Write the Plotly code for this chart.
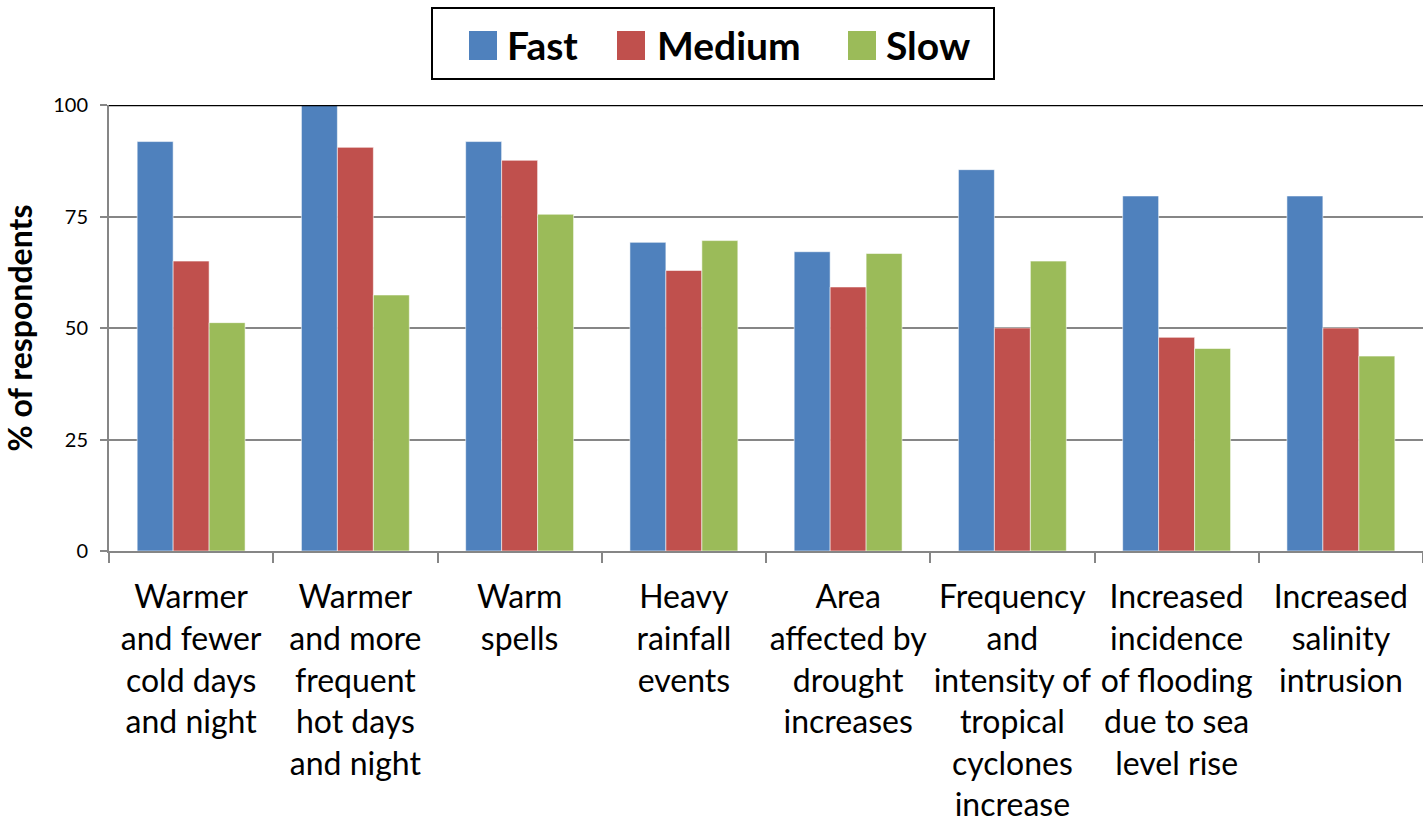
import plotly.graph_objects as go

# Categories of observed climate change and share of respondents per speed
categories = [
    "Warmer<br>and fewer<br>cold days<br>and night",
    "Warmer<br>and more<br>frequent<br>hot days<br>and night",
    "Warm<br>spells",
    "Heavy<br>rainfall<br>events",
    "Area<br>affected by<br>drought<br>increases",
    "Frequency<br>and<br>intensity of<br>tropical<br>cyclones<br>increase",
    "Increased<br>incidence<br>of flooding<br>due to sea<br>level rise",
    "Increased<br>salinity<br>intrusion",
]
series_names = ["Fast", "Medium", "Slow"]
fast = [91.8, 100.0, 91.8, 69.2, 67.1, 85.5, 79.6, 79.6]
medium = [65.0, 90.5, 87.6, 62.9, 59.2, 50.0, 47.9, 50.0]
slow = [51.2, 57.4, 75.5, 69.6, 66.7, 65.0, 45.4, 43.7]
y_ticks = [0, 25, 50, 75, 100]

colors = ["#4F81BD", "#C0504D", "#9BBB59"]
FONT = "Lato, 'Open Sans', sans-serif"

W, H = 1423, 824
L, R, T, B = 109, 0, 105, 273
PW, PH = W - L - R, H - T - B


def px(x):
    return (x - L) / PW


def py(y):
    return (H - B - y) / PH


fig = go.Figure()
for name, vals, col in zip(series_names, [fast, medium, slow], colors):
    fig.add_trace(go.Bar(
        x=categories, y=vals, name=name, showlegend=False,
        marker=dict(color=col, line=dict(color="rgba(255,255,255,0.55)", width=1)),
    ))

shapes = [
    # dark line along the 100 gridline
    dict(type="line", xref="paper", yref="y", x0=0, x1=1, y0=100, y1=100,
         line=dict(color="black", width=2.5)),
    # legend frame
    dict(type="rect", xref="paper", yref="paper",
         x0=px(432), x1=px(994), y0=py(79), y1=py(8),
         line=dict(color="black", width=2), fillcolor="white"),
]
annotations = []
legend_items = [(469, 505), (617, 655), (848, 884)]
for (sx, tx), name, col in zip(legend_items, series_names, colors):
    shapes.append(dict(type="rect", xref="paper", yref="paper",
                       x0=px(sx), x1=px(sx + 28), y0=py(60), y1=py(31),
                       line=dict(width=0), fillcolor=col))
    annotations.append(dict(xref="paper", yref="paper", x=px(tx), y=py(45),
                            xanchor="left", yanchor="middle", showarrow=False,
                            text="<b>%s</b>" % name,
                            font=dict(family=FONT, size=39, color="black")))

fig.update_layout(
    width=W, height=H,
    margin=dict(l=L, r=R, t=T, b=B, pad=0),
    paper_bgcolor="white", plot_bgcolor="white",
    barmode="group", bargap=0.343, bargroupgap=0,
    font=dict(family=FONT, color="black"),
    shapes=shapes, annotations=annotations,
    showlegend=False,
)
fig.update_xaxes(
    type="category", tickson="boundaries",
    ticks="outside", ticklen=10, tickwidth=2, tickcolor="#868686",
    showline=True, linecolor="#868686", linewidth=2,
    showgrid=False, tickangle=0, ticklabelstandoff=17,
    tickfont=dict(family=FONT, size=32, color="black"),
)
fig.update_yaxes(
    range=[0, 100], tickvals=y_ticks, ticktext=[str(v) for v in y_ticks],
    ticks="outside", ticklen=7, tickwidth=2, tickcolor="#868686",
    showline=True, linecolor="#868686", linewidth=2,
    showgrid=True, gridcolor="#868686", gridwidth=1.5,
    zeroline=False, ticklabelstandoff=8,
    tickfont=dict(family=FONT, size=20, color="black"),
    title=dict(text="<b>% of respondents</b>", standoff=14,
               font=dict(family=FONT, size=32, color="black")),
)

fig.write_html("out.html")
